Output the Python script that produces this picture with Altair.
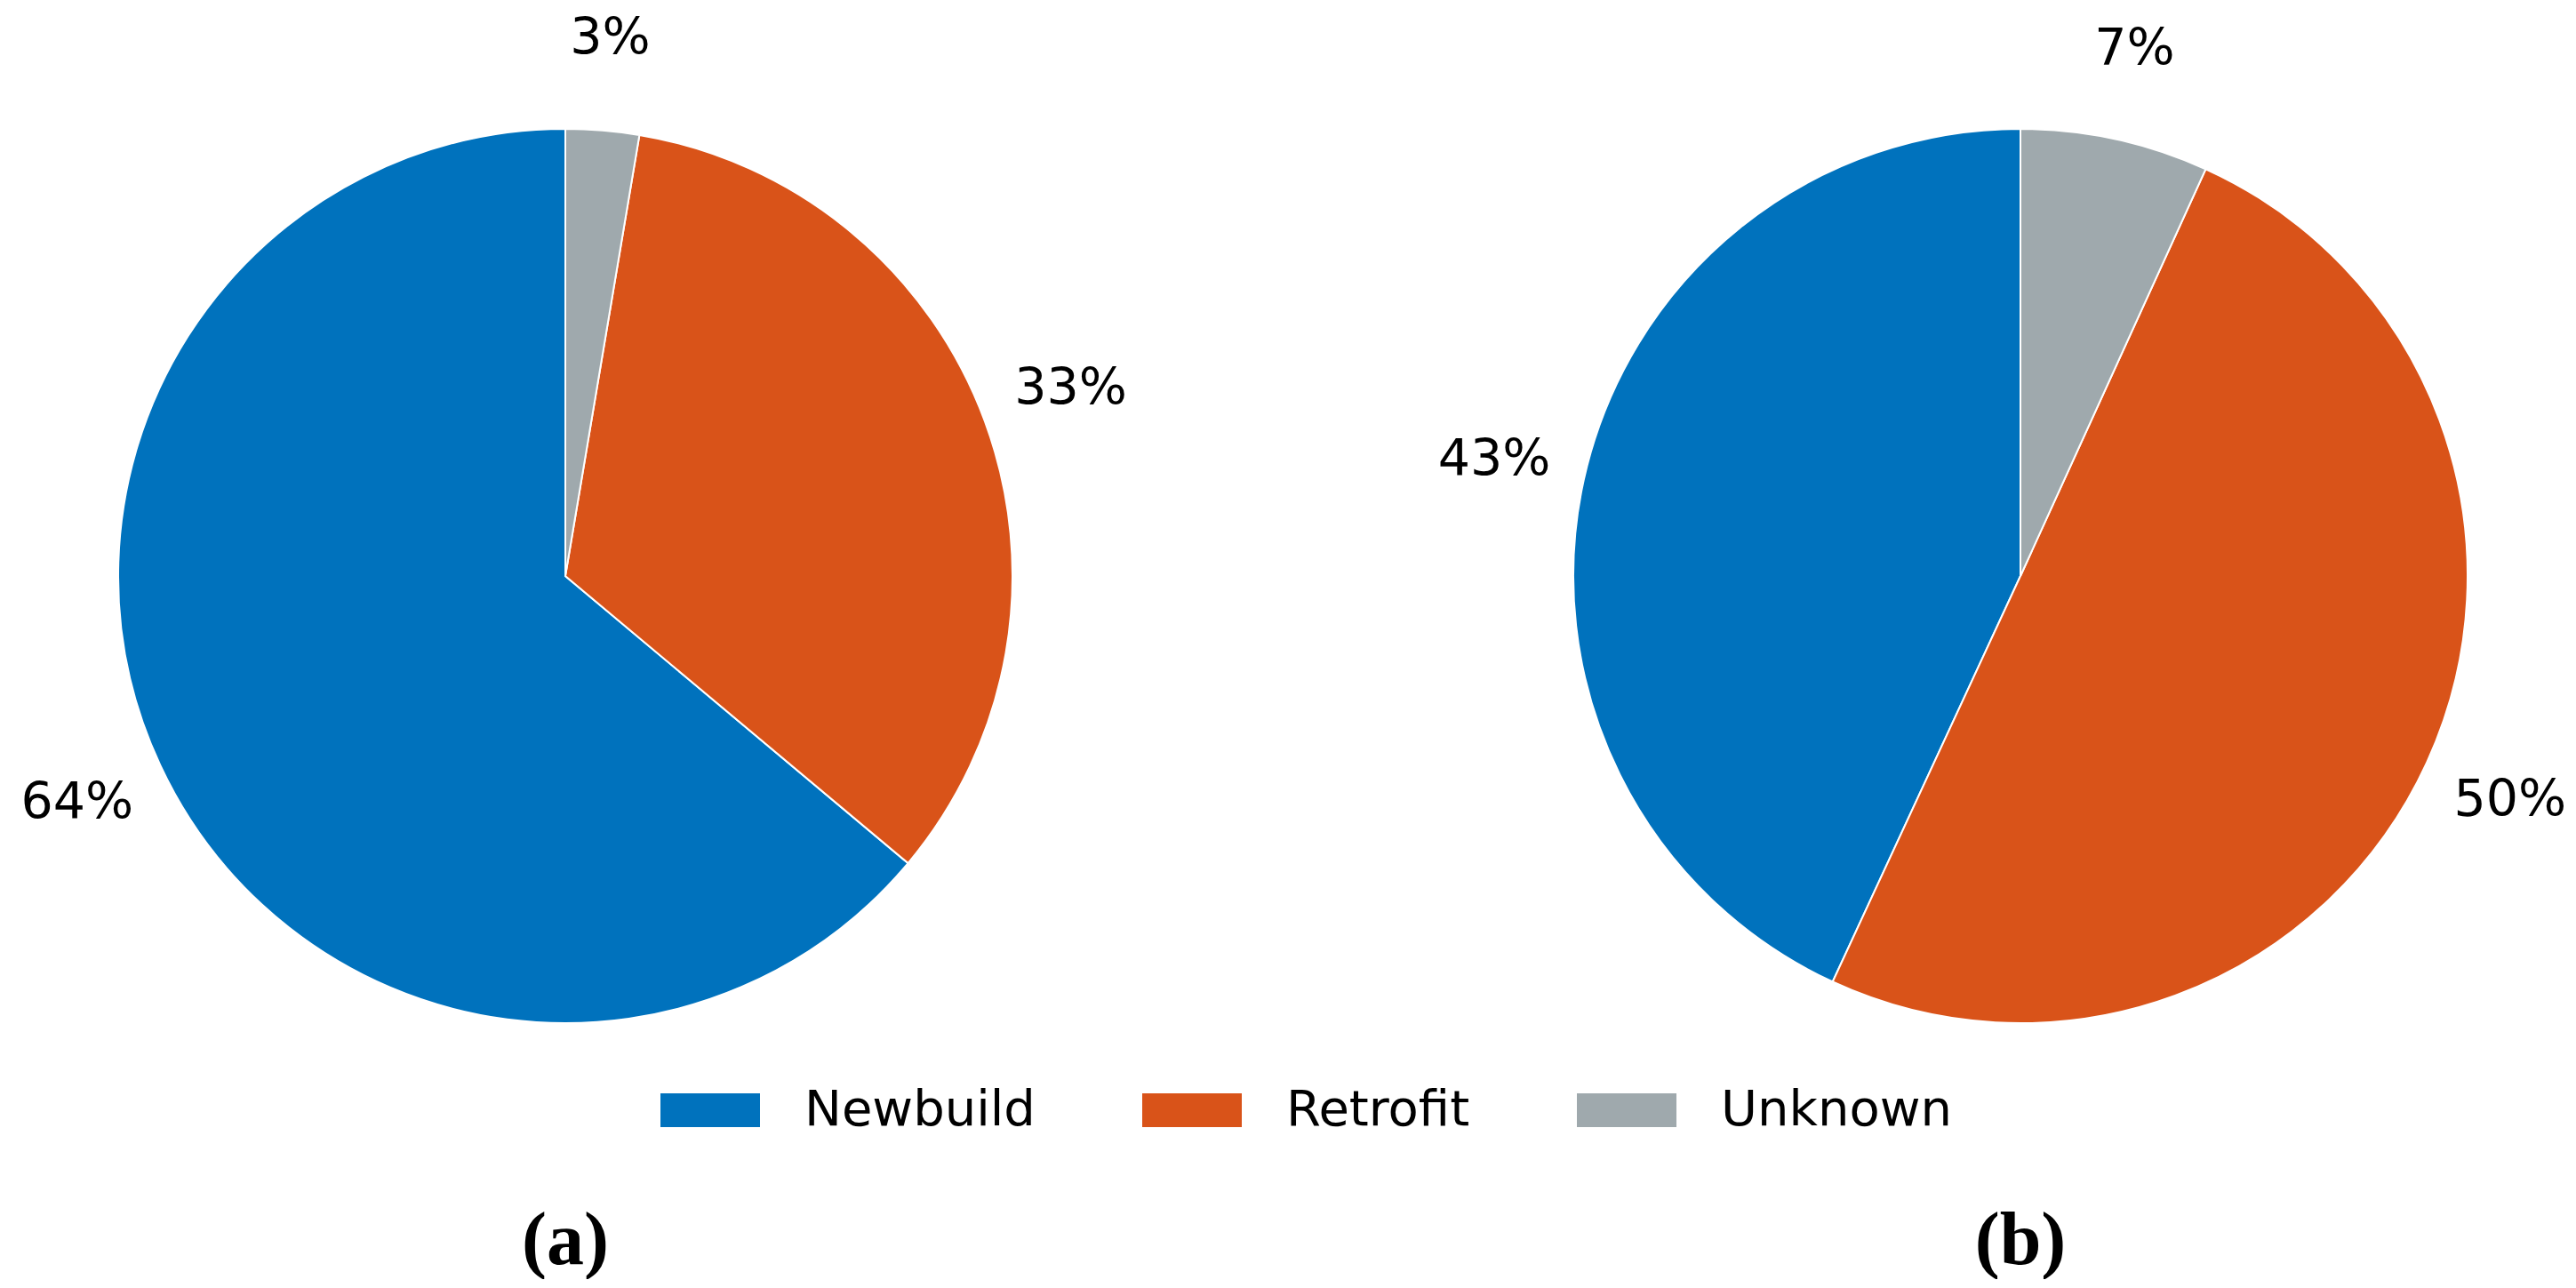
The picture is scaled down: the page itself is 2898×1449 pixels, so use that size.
import altair as alt
import pandas as pd

categories = ["Newbuild", "Retrofit", "Unknown"]
share_a = [63.9, 33.45, 2.65]
share_b = [43.1, 50.1, 6.8]
panel_titles = ["(a)", "(b)"]
colors = ["#0072BD", "#D95319", "#9FA9AD"]
stack_rank = [2, 1, 0]  # Unknown first clockwise from top, Newbuild last


def frame(values):
    return pd.DataFrame({
        "category": categories,
        "share": values,
        "rank": stack_rank,
        "label": [f"{v:.0f}%" for v in values],
    })


color_enc = alt.Color(
    "category:N",
    scale=alt.Scale(domain=categories, range=colors),
    legend=alt.Legend(
        title=None,
        orient="none",
        direction="horizontal",
        legendX=735,
        legendY=1185,
        symbolType="M-1,-0.34L1,-0.34L1,0.34L-1,0.34Z",
        symbolSize=12544,
        symbolStrokeWidth=0,
        symbolOpacity=1,
        labelFont="DejaVu Sans",
        labelFontSize=56,
        labelColor="black",
        labelOffset=50,
        columnPadding=120,
        labelLimit=500,
    ),
)


def pie(values, title, width):
    df = frame(values)
    arcs = alt.Chart(df).mark_arc(outerRadius=503, stroke="white", strokeWidth=2).encode(
        theta=alt.Theta("share:Q", stack=True),
        order=alt.Order("rank:Q"),
        color=color_enc,
    )
    text = alt.Chart(df).mark_text(
        radius=606, font="DejaVu Sans", fontSize=57, color="black"
    ).encode(
        theta=alt.Theta("share:Q", stack=True),
        order=alt.Order("rank:Q"),
        detail="category:N",
        text="label:N",
    )
    return alt.layer(arcs, text).properties(
        width=width,
        height=1280,
        title=alt.TitleParams(
            title,
            orient="bottom",
            font="Liberation Serif",
            fontSize=84,
            fontWeight="bold",
            color="black",
            offset=68,
        ),
    )


chart = alt.hconcat(
    pie(share_a, panel_titles[0], 1256),
    pie(share_b, panel_titles[1], 1100),
    spacing=459,
    bounds="flush",
).properties(padding=0, background="white").configure_view(stroke=None)

chart.save("out.html", embed_options={"renderer": "svg", "actions": False})
